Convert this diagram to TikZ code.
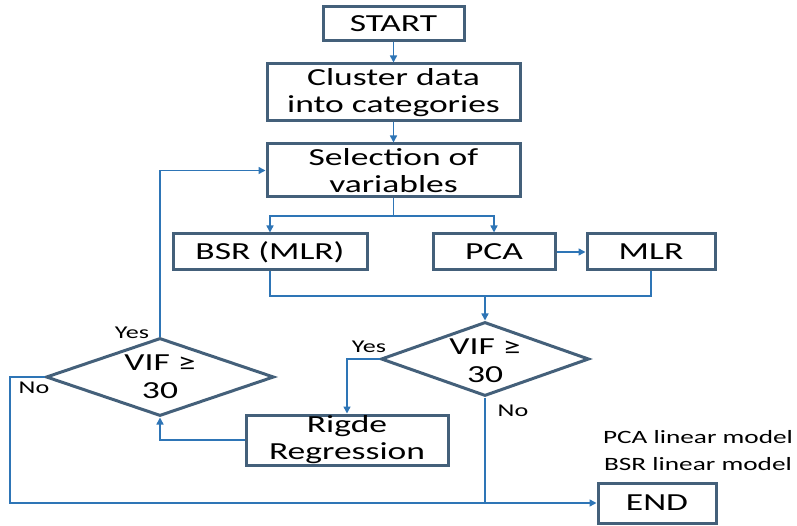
\documentclass[tikz,border=0pt]{standalone}
\usepackage{fontspec}
\setmainfont{Carlito}[FakeStretch=1.45]
\usetikzlibrary{shapes.geometric,arrows.meta}
\definecolor{boxc}{RGB}{68,96,122}
\definecolor{linec}{RGB}{46,117,182}
\begin{document}
\begin{tikzpicture}[x=1pt,y=-1pt,
  box/.style={draw=boxc,line width=3pt,rectangle,inner sep=0pt,align=center,font=\fontsize{24.5}{27}\selectfont},
  dia/.style={draw=boxc,line width=3pt,diamond,inner sep=0pt},
  diatext/.style={align=center,font=\fontsize{24.5}{28}\selectfont},
  conn/.style={draw=linec,line width=1.5pt,-{Triangle[length=7pt,width=7pt]}},
  plain/.style={draw=linec,line width=1.5pt},
  lab/.style={font=\fontsize{18}{20}\selectfont,inner sep=0pt}]
\useasboundingbox (0,0) rectangle (797,526);
\node[box,minimum width=141,minimum height=34] (start) at (393.5,24) {START};
\node[box,minimum width=253,minimum height=57] (cluster) at (393.5,92.5) {Cluster data\\into categories};
\node[box,minimum width=253,minimum height=53] (sel) at (393.5,170.5) {Selection of\\variables};
\node[box,minimum width=194,minimum height=36] (bsr) at (270,252) {BSR (MLR)};
\node[box,minimum width=122,minimum height=36] (pca) at (494,252) {PCA};
\node[box,minimum width=128,minimum height=36] (mlr) at (651,252) {MLR};
\node[dia,minimum width=208,minimum height=74] (d2) at (485,359) {};
\node[diatext] (d2t) at (485,361) {VIF ≥\\30};
\node[dia,minimum width=228,minimum height=78] (d1) at (160,377) {};
\node[diatext] (d1t) at (160,377) {VIF ≥\\30};
\node[box,minimum width=202,minimum height=50] (ridge) at (347,440) {Rigde\\Regression};
\node[box,minimum width=118,minimum height=40] (end) at (657,503) {END};
\node[lab,font=\fontsize{18.8}{20}\selectfont] (pl) at (698,437) {PCA linear model};
\node[lab,font=\fontsize{18.8}{20}\selectfont] (bl) at (698,464) {BSR linear model};
\node[lab] (y1) at (132,333) {Yes};
\node[lab] (n1) at (34,388) {No};
\node[lab] (y2) at (369,347) {Yes};
\node[lab] (n2) at (513,411) {No};
\coordinate (s1) at (393.5,216);
\coordinate (j) at (485,296);
\coordinate (cno) at (10,503);
\draw[conn] (start) -- (cluster);
\draw[conn] (cluster) -- (sel);
\draw[plain] (sel.south) -- (s1);
\draw[conn] (s1) -| (bsr.north);
\draw[conn] (s1) -| (pca.north);
\draw[conn] (pca) -- (mlr);
\draw[plain] (bsr.south) |- (j);
\draw[plain] (mlr.south) |- (j);
\draw[conn] (j) -- (d2.north);
\draw[conn] (d2.west) -| (ridge.north);
\draw[conn] (d2.south) |- (end.west);
\draw[conn] (ridge.west) -| (d1.south);
\draw[conn] (d1.north) |- (sel.west);
\draw[plain] (d1.west) -| (cno) -- (d2.south |- end.west);
\end{tikzpicture}
\end{document}
